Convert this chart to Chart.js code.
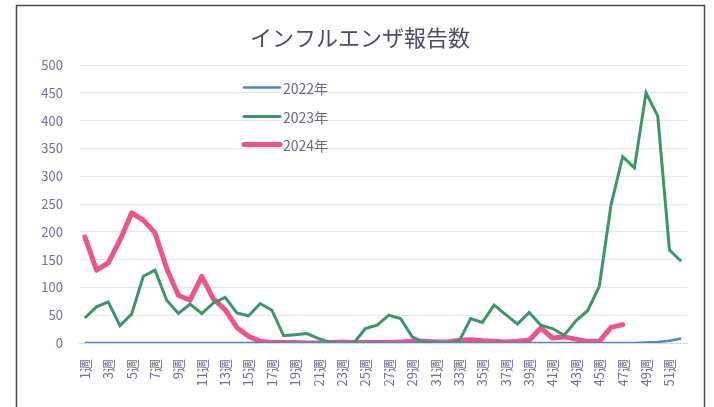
<!DOCTYPE html>
<html>
<head>
<meta charset="utf-8">
<script src="https://cdn.jsdelivr.net/npm/chart.js@4/dist/chart.umd.min.js"></script>
<style>
html,body{margin:0;padding:0;background:#fff;}
#wrap{position:relative;width:714px;height:407px;}
</style>
</head>
<body>
<div id="wrap"><canvas id="c" width="714" height="407"></canvas></div>
<script>
const titleText = 'インフルエンザ報告数';
const weeks = [];
for (let i = 1; i <= 52; i++) weeks.push(i + '週');
const seriesLabels = ['2022年', '2023年', '2024年'];
const y2022 = [0,0,0,0,0,0,0,0,0,0,0,0,0,0,0,0,0,0,0,0,0,0,0,0,0,0,0,0,0,0,0,0,0,0,0,0,0,0,0,0,0,0,0,0,0,0,0,0,1,2,4,8];
const y2023 = [45,65,74,31,52,120,131,77,53,70,53,72,82,54,49,71,59,13,15,17,8,1,0,0,26,32,50,44,11,1,2,0,3,44,37,68,51,34,55,32,26,14,40,58,102,248,335,315,450,408,167,147];
const y2024 = [191,131,144,185,234,221,198,134,86,77,120,79,60,28,12,3,1,1,1,0,0,1,2,1,1,1,1,2,3,3,2,2,5,6,4,3,2,3,5,27,9,11,7,3,3,28,33];
const yTicks = {min:0, max:500, step:50};

const colors = ['#4a84d6', '#3d9668', '#ef5488'];
const widths = [2.5, 3, 5];

const FONT = '"Noto Sans CJK JP", "Noto Sans", sans-serif';

const legendPlugin = {
  id: 'customLegend',
  afterDraw(chart) {
    const ctx = chart.ctx;
    ctx.save();
    ctx.strokeStyle = '#4a4a4a';
    ctx.lineWidth = 1.5;
    ctx.strokeRect(16.5, 5.5, 688, 430);
    ctx.fillStyle = '#4c4c66';
    ctx.font = '22px ' + FONT;
    ctx.textAlign = 'center';
    ctx.textBaseline = 'middle';
    ctx.fillText(titleText, 360, 38);
    const ys = [87.5, 116.5, 144.5];
    chart.data.datasets.forEach((ds, i) => {
      ctx.strokeStyle = ds.borderColor;
      ctx.lineWidth = ds.borderWidth;
      ctx.lineCap = 'round';
      ctx.beginPath();
      ctx.moveTo(244, ys[i]);
      ctx.lineTo(280, ys[i]);
      ctx.stroke();
      ctx.fillStyle = '#6a6a84';
      ctx.font = '14px ' + FONT;
      ctx.textAlign = 'left';
      ctx.textBaseline = 'middle';
      ctx.fillText(ds.label, 283, ys[i] + 1);
    });
    ctx.restore();
  }
};

new Chart(document.getElementById('c'), {
  type: 'line',
  data: {
    labels: weeks,
    datasets: [
      {label: seriesLabels[0], data: y2022, borderColor: colors[0], backgroundColor: colors[0], borderWidth: widths[0], pointRadius: 0, tension: 0},
      {label: seriesLabels[1], data: y2023, borderColor: colors[1], backgroundColor: colors[1], borderWidth: widths[1], pointRadius: 0, tension: 0},
      {label: seriesLabels[2], data: y2024, borderColor: colors[2], backgroundColor: colors[2], borderWidth: widths[2], pointRadius: 0, tension: 0, borderJoinStyle: 'round', borderCapStyle: 'round'}
    ]
  },
  options: {
    responsive: false,
    animation: false,
    layout: {padding: {top: 65, right: 27, bottom: 0, left: 0}},
    plugins: {legend: {display: false}, title: {display: false}, tooltip: {enabled: false}},
    scales: {
      x: {
        offset: true,
        grid: {display: false, drawTicks: false},
        border: {display: true, color: '#d9d9d9'},
        afterFit(s) { s.height = 64; },
        ticks: {
          autoSkip: false,
          minRotation: 90, maxRotation: 90,
          padding: 16,
          color: '#6e7191',
          font: {family: FONT, size: 13},
          callback(v, i) { return i % 2 === 0 ? this.getLabelForValue(v) : null; }
        }
      },
      y: {
        min: yTicks.min, max: yTicks.max,
        grid: {color: '#e6e6e6', drawTicks: false},
        border: {display: false},
        afterFit(s) { s.width = 79; },
        ticks: {
          stepSize: yTicks.step,
          padding: 16,
          color: '#6e7191',
          font: {family: FONT, size: 13}
        }
      }
    }
  },
  plugins: [legendPlugin]
});
</script>
</body>
</html>
